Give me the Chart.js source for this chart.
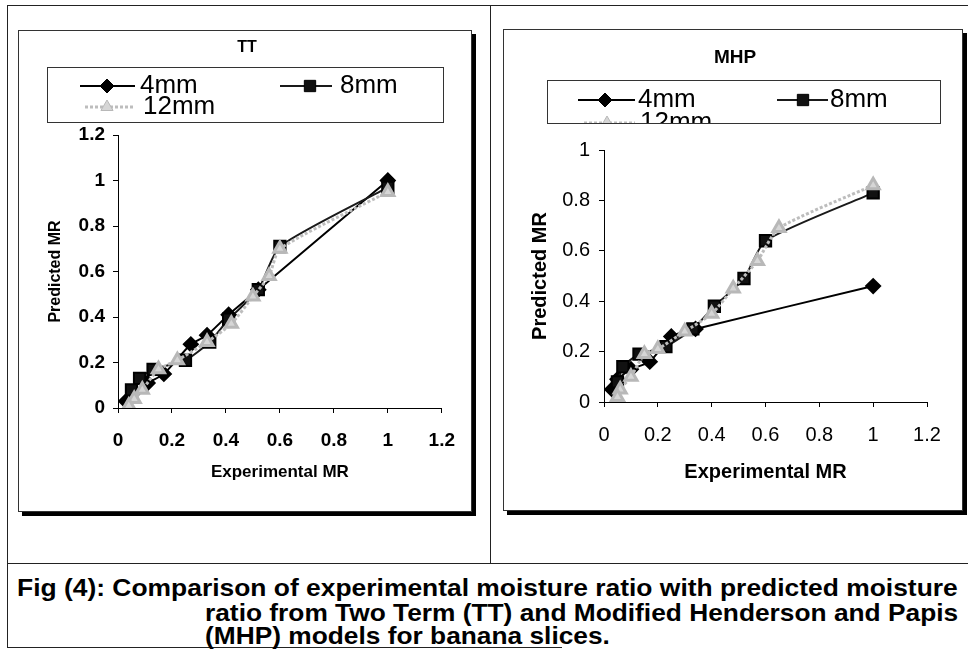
<!DOCTYPE html>
<html lang="en">
<head>
<meta charset="UTF-8">
<title>Fig (4): TT and MHP predicted vs experimental MR</title>
<script src="https://cdn.jsdelivr.net/npm/chart.js"></script>
<style>
  html, body { margin: 0; padding: 0; background: #fff; }
  body {
    width: 968px;
    height: 649px;
    position: relative;
    overflow: hidden;
    font-family: "Liberation Sans", Arial, sans-serif;
  }
  .rule { position: absolute; background: #222; }
  .panel {
    position: absolute;
    background: #fff;
    border: 1px solid #333;
    box-shadow: 4px 4px 0 #000;
  }
  .panel canvas { position: absolute; left: 0; top: 0; }
  .cap {
    position: absolute;
    display: inline-block;
    font-family: "Liberation Sans Narrow", "Liberation Sans", Arial, sans-serif;
    font-weight: bold;
    font-size: 24px;
    line-height: 26px;
    color: #000;
    white-space: nowrap;
    transform-origin: 0 50%;
  }
</style>
</head>
<body>
  <!-- outer frame -->
  <div class="rule" style="left:7px; top:5px; width:961px; height:1px;"></div>
  <div class="rule" style="left:7px; top:5px; width:1px; height:643px;"></div>
  <div class="rule" style="left:490px; top:5px; width:1px; height:558px;"></div>
  <div class="rule" style="left:7px; top:563px; width:961px; height:1px;"></div>
  <div class="rule" style="left:7px; top:647px; width:555px; height:1px;"></div>

  <div class="panel" style="left:18px; top:30px; width:452px; height:480px;">
    <canvas id="tt-chart" width="452" height="480"></canvas>
  </div>
  <div class="panel" style="left:503px; top:29px; width:458px; height:480px;">
    <canvas id="mhp-chart" width="458" height="480"></canvas>
  </div>

  <span class="cap" id="cap1" style="left:17px; top:575px;" data-w="941">Fig (4): Comparison of experimental moisture ratio with predicted moisture</span>
  <span class="cap" id="cap2" style="left:205px; top:600px;" data-w="753">ratio from Two Term (TT) and Modified Henderson and Papis</span>
  <span class="cap" id="cap3" style="left:205px; top:623px;">(MHP) models for banana slices.</span>

  <script>
    // series names
    const seriesLabels = ['4mm', '8mm', '12mm'];

    // TT model: experimental MR (x) vs predicted MR (y)
    const ttX4 = [1, 0.52, 0.41, 0.33, 0.27, 0.17, 0.11, 0.06, 0.03];
    const ttY4 = [1.0, 0.52, 0.41, 0.32, 0.28, 0.15, 0.11, 0.07, 0.03];
    const ttX8 = [1, 0.6, 0.52, 0.41, 0.34, 0.25, 0.13, 0.08, 0.05];
    const ttY8 = [0.97, 0.71, 0.52, 0.39, 0.29, 0.21, 0.17, 0.13, 0.08];
    const ttX12 = [1, 0.6, 0.56, 0.5, 0.42, 0.33, 0.22, 0.15, 0.09, 0.06, 0.04];
    const ttY12 = [0.95, 0.7, 0.58, 0.49, 0.37, 0.29, 0.21, 0.17, 0.08, 0.04, 0.01];

    // MHP model
    const mhpX4 = [1, 0.34, 0.25, 0.17, 0.1, 0.05, 0.03];
    const mhpY4 = [0.46, 0.29, 0.26, 0.16, 0.13, 0.09, 0.05];
    const mhpX8 = [1, 0.6, 0.52, 0.41, 0.33, 0.23, 0.13, 0.07, 0.05];
    const mhpY8 = [0.83, 0.64, 0.49, 0.38, 0.29, 0.22, 0.19, 0.14, 0.08];
    const mhpX12 = [1, 0.65, 0.57, 0.48, 0.4, 0.3, 0.2, 0.15, 0.1, 0.06, 0.05];
    const mhpY12 = [0.86, 0.69, 0.56, 0.45, 0.35, 0.28, 0.21, 0.19, 0.1, 0.05, 0.02];

    // tick labels
    const ttXTicks = [0, 0.2, 0.4, 0.6, 0.8, 1, 1.2];
    const ttYTicks = [0, 0.2, 0.4, 0.6, 0.8, 1, 1.2];
    const mhpXTicks = [0, 0.2, 0.4, 0.6, 0.8, 1, 1.2];
    const mhpYTicks = [0, 0.2, 0.4, 0.6, 0.8, 1];

    const FONT = '"Liberation Sans", Arial, sans-serif';

    // squeeze the caption lines to the scanned width
    const cap1 = document.getElementById('cap1');
    const cap2 = document.getElementById('cap2');
    const cap3 = document.getElementById('cap3');
    const k1 = +cap1.dataset.w / cap1.offsetWidth;
    const k2 = +cap2.dataset.w / cap2.offsetWidth;
    cap1.style.transform = 'scaleX(' + k1 + ')';
    cap2.style.transform = 'scaleX(' + k2 + ')';
    cap3.style.transform = 'scaleX(' + k2 + ')';

    function pts(xs, ys) {
      return xs.map((x, i) => ({ x: x, y: ys[i] }));
    }

    function makeDatasets(sets) {
      const styles = [
        { borderColor: '#000', borderWidth: 2, pointStyle: 'rectRot', pointRadius: 7, pointBackgroundColor: '#000', pointBorderColor: '#000', order: 2 },
        { borderColor: '#1a1a1a', borderWidth: 2, pointStyle: 'rect', pointRadius: 8, pointBackgroundColor: '#111', pointBorderColor: '#000', order: 1 },
        { borderColor: '#bdbdbd', borderWidth: 3, borderDash: [3, 2], pointStyle: 'triangle', pointRadius: 7, pointBackgroundColor: '#d6d6d6', pointBorderColor: '#b8b8b8', order: 0 }
      ];
      return sets.map((data, i) => Object.assign({
        label: seriesLabels[i],
        data: data,
        showLine: true,
        tension: 0.2,
        pointHoverRadius: 0
      }, styles[i]));
    }

    // title + boxed legend drawn on top of the chart
    const panelDecor = {
      id: 'panelDecor',
      afterDraw(chart, args, opts) {
        const ctx = chart.ctx;
        ctx.save();
        ctx.fillStyle = '#000';
        ctx.font = opts.titleFont;
        ctx.textAlign = 'center';
        ctx.textBaseline = 'middle';
        ctx.fillText(opts.title, opts.titleX, opts.titleY);

        const b = opts.box;
        ctx.fillStyle = '#fff';
        ctx.fillRect(b.x, b.y, b.w, b.h);
        ctx.strokeStyle = '#333';
        ctx.lineWidth = 1;
        ctx.strokeRect(b.x + 0.5, b.y + 0.5, b.w, b.h);
        ctx.beginPath();
        ctx.rect(b.x + 1, b.y + 1, b.w - 1, b.h - 1);
        ctx.clip();

        opts.items.forEach((it, i) => {
          const ds = chart.data.datasets[i];
          ctx.strokeStyle = ds.borderColor;
          ctx.lineWidth = ds.borderWidth;
          ctx.setLineDash(ds.borderDash || []);
          ctx.beginPath();
          ctx.moveTo(it.x1, it.y);
          ctx.lineTo(it.x2, it.y);
          ctx.stroke();
          ctx.setLineDash([]);
          ctx.fillStyle = ds.pointBackgroundColor;
          ctx.strokeStyle = ds.pointBorderColor;
          ctx.lineWidth = 1;
          Chart.helpers.drawPoint(ctx, { pointStyle: ds.pointStyle, radius: ds.pointRadius, rotation: 0, borderWidth: 1 }, it.mx, it.y);
          ctx.fillStyle = '#000';
          ctx.font = opts.legendFont;
          ctx.textAlign = 'left';
          ctx.textBaseline = 'middle';
          ctx.fillText(ds.label, it.tx, it.y);
        });
        ctx.restore();
      }
    };

    function axis(ticks, max, o) {
      return {
        type: 'linear',
        min: 0,
        max: max,
        afterBuildTicks: s => { s.ticks = ticks.map(v => ({ value: v })); },
        afterFit: s => { if (o.width) s.width = o.width; if (o.height) s.height = o.height; },
        ticks: {
          color: '#000',
          padding: o.tickPad,
          font: { family: FONT, size: o.tickSize, weight: o.tickWeight },
          callback: v => String(+v.toFixed(2))
        },
        grid: { drawOnChartArea: false, drawTicks: true, tickLength: 5, color: '#000', lineWidth: 1 },
        border: { display: true, color: '#000', width: 1 },
        title: {
          display: true,
          text: o.title,
          color: '#000',
          font: { family: FONT, size: o.titleSize, weight: 'bold' },
          padding: o.titlePad
        }
      };
    }

    new Chart(document.getElementById('tt-chart'), {
      type: 'scatter',
      data: {
        datasets: makeDatasets([pts(ttX4, ttY4), pts(ttX8, ttY8), pts(ttX12, ttY12)])
      },
      options: {
        responsive: false,
        animation: false,
        layout: { padding: { left: 27, right: 17, top: 104, bottom: 23 } },
        scales: {
          x: axis(ttXTicks, 1.2, { height: 80, tickPad: 16, tickSize: 19, tickWeight: 'bold', title: 'Experimental MR', titleSize: 17, titlePad: { top: 0, bottom: 5 } }),
          y: axis(ttYTicks, 1.2, { width: 72, tickPad: 8, tickSize: 19, tickWeight: 'bold', title: 'Predicted MR', titleSize: 16, titlePad: { top: 0, bottom: 0 } })
        },
        plugins: {
          legend: { display: false },
          tooltip: { enabled: false },
          panelDecor: {
            title: 'TT', titleX: 228, titleY: 17, titleFont: 'bold 16px ' + FONT,
            legendFont: '26px ' + FONT,
            box: { x: 28, y: 36, w: 396, h: 55 },
            items: [
              { x1: 61, x2: 116, mx: 88, tx: 121, y: 55 },
              { x1: 261, x2: 313, mx: 291, tx: 321, y: 55 },
              { x1: 66, x2: 116, mx: 88, tx: 124, y: 76 }
            ]
          }
        }
      },
      plugins: [panelDecor]
    });

    new Chart(document.getElementById('mhp-chart'), {
      type: 'scatter',
      data: {
        datasets: makeDatasets([pts(mhpX4, mhpY4), pts(mhpX8, mhpY8), pts(mhpX12, mhpY12)])
      },
      options: {
        responsive: false,
        animation: false,
        layout: { padding: { left: 24, right: 35, top: 120, bottom: 26 } },
        scales: {
          x: axis(mhpXTicks, 1.2, { height: 82, tickPad: 16, tickSize: 20, tickWeight: 'normal', title: 'Experimental MR', titleSize: 20, titlePad: { top: 0, bottom: 0 } }),
          y: axis(mhpYTicks, 1, { width: 76, tickPad: 9, tickSize: 20, tickWeight: 'normal', title: 'Predicted MR', titleSize: 20, titlePad: { top: 0, bottom: 0 } })
        },
        plugins: {
          legend: { display: false },
          tooltip: { enabled: false },
          panelDecor: {
            title: 'MHP', titleX: 231, titleY: 28, titleFont: 'bold 19px ' + FONT,
            legendFont: '26px ' + FONT,
            box: { x: 43, y: 50, w: 393, h: 43 },
            items: [
              { x1: 74, x2: 131, mx: 101, tx: 134, y: 70 },
              { x1: 273, x2: 324, mx: 299, tx: 326, y: 70 },
              { x1: 80, x2: 131, mx: 103, tx: 136, y: 93 }
            ]
          }
        }
      },
      plugins: [panelDecor]
    });
  </script>
</body>
</html>
